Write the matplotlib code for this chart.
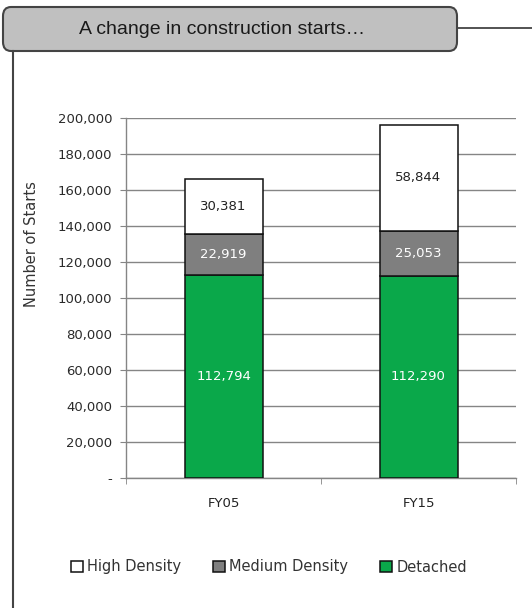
import matplotlib.pyplot as plt
from matplotlib.patches import FancyBboxPatch
from matplotlib.lines import Line2D
from matplotlib.ticker import FuncFormatter, FixedLocator

# Construction starts by dwelling type
years = ['FY05', 'FY15']
detached = [112794, 112290]
medium = [22919, 25053]
high = [30381, 58844]

series = [
    ('Detached', detached, '#0aa84a', 'white'),
    ('Medium Density', medium, '#7f7f7f', 'white'),
    ('High Density', high, 'white', '#222222'),
]

W, H = 532, 608
fig = plt.figure(figsize=(W / 100, H / 100), dpi=100)
ax = fig.add_axes([126 / W, 1 - 478 / H, 390 / W, 360 / H])

x = list(range(len(years)))
bottom = [0] * len(years)
handles = {}
for name, vals, color, txt in series:
    bars = ax.bar(x, vals, width=0.4, bottom=bottom, color=color,
                  edgecolor='#111111', linewidth=1.1, label=name, zorder=3)
    handles[name] = bars
    for xi, b, v in zip(x, bottom, vals):
        ax.text(xi, b + v / 2, f'{v:,}', ha='center', va='center',
                fontsize=9.5, color=txt, zorder=4)
    bottom = [b + v for b, v in zip(bottom, vals)]

ax.set_xlim(-0.5, 1.5)
ax.set_ylim(0, 200000)
ax.set_yticks(range(0, 200001, 20000))
ax.yaxis.set_major_formatter(FuncFormatter(lambda v, p: '-' if v == 0 else f'{int(v):,}'))
ax.grid(axis='y', color='#858585', linewidth=1.0, zorder=0)
ax.set_axisbelow(True)

ax.set_xticks(x)
ax.set_xticklabels(years, fontsize=9.5, color='#222222')
ax.xaxis.set_minor_locator(FixedLocator([-0.5, 0.5, 1.5]))
ax.tick_params(axis='x', which='major', length=0, pad=14)
ax.tick_params(axis='x', which='minor', length=4, color='#858585')
ax.tick_params(axis='y', length=4, color='#858585', labelsize=9.5,
               labelcolor='#2a2a2a', pad=6)

for side in ['top', 'right']:
    ax.spines[side].set_visible(False)
for side in ['left', 'bottom']:
    ax.spines[side].set_color('#858585')
    ax.spines[side].set_linewidth(1.0)

fig.text(32 / W, 1 - 244 / H, 'Number of Starts', rotation=90,
         ha='center', va='center', fontsize=10.5, color='#333333')

order = ['High Density', 'Medium Density', 'Detached']
fig.legend([handles[n] for n in order], order, loc='center',
           bbox_to_anchor=(269 / W, 1 - 567 / H), ncol=3, frameon=False,
           handlelength=0.8, handleheight=0.8, handletextpad=0.3,
           columnspacing=2.2, fontsize=10.5, labelcolor='#333333')

# Title box and frame lines
box = FancyBboxPatch((3 / W, 1 - 51 / H), 454 / W, 44 / H,
                     boxstyle='round,pad=0,rounding_size=0.015',
                     transform=fig.transFigure, facecolor='#c0c0c0',
                     edgecolor='#444444', linewidth=1.5)
fig.patches.append(box)
fig.text(222 / W, 1 - 29 / H, 'A change in construction starts…',
         ha='center', va='center', fontsize=14, family='Liberation Sans',
         color='#1a1a1a')
fig.lines.append(Line2D([457 / W, 1.0], [1 - 28 / H, 1 - 28 / H],
                        transform=fig.transFigure, color='#444444', linewidth=1.3))
fig.lines.append(Line2D([13 / W, 13 / W], [0.0, 1 - 51 / H],
                        transform=fig.transFigure, color='#444444', linewidth=1.5))

fig.savefig('out.png', dpi=100)
